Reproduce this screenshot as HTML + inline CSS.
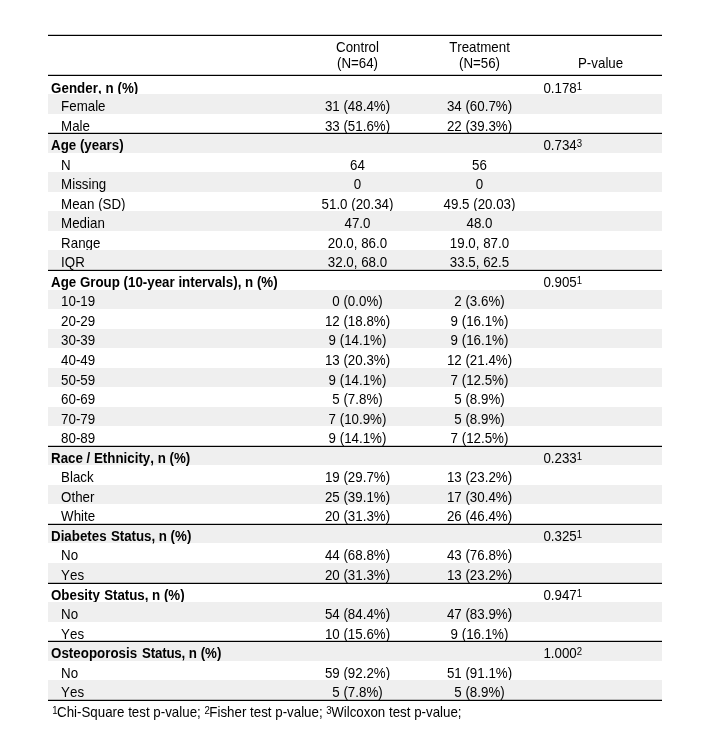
<!DOCTYPE html>
<html><head><meta charset="utf-8"><title>Table</title>
<style>
html,body{margin:0;padding:0;background:#fff;}
body{font-kerning:none;filter:grayscale(1);width:701px;height:740px;position:relative;overflow:hidden;font-family:"Liberation Sans",sans-serif;font-size:13.33px;color:#000;}
.row{position:absolute;left:48px;width:614px;height:19.543px;}
.row.g{background:#efefef;}
.t{position:absolute;white-space:nowrap;line-height:20px;top:3.01px;transform:scaleY(1.045);transform-origin:0 14.62px;}
.lab{left:13.1px;}
.row.h .lab{left:3px;font-weight:bold;}
.c1{left:249.5px;width:120px;text-align:center;}
.c2{left:371.5px;width:120px;text-align:center;}
.p{left:495.4px;}
.st{margin-left:0.7px;letter-spacing:-0.05px;}
sup{font-size:9.6px;line-height:0;vertical-align:baseline;position:relative;top:-3.4px;}
.ln{position:absolute;left:48px;width:614px;height:1px;background:#000;box-shadow:0 -1px 0 rgba(0,0,0,0.22);}
.hd{position:absolute;white-space:nowrap;text-align:center;width:120px;line-height:20px;transform:scaleY(1.045);transform-origin:0 14.62px;}
.foot{position:absolute;left:52.2px;top:703.3px;white-space:nowrap;line-height:20px;transform:scaleY(1.045);transform-origin:0 14.62px;}
.foot sup{margin-right:-0.5px;}
</style></head><body>

<div class="hd" style="left:297.5px;top:37.6px;">Control</div>
<div class="hd" style="left:297.5px;top:53.6px;">(N=64)</div>
<div class="hd" style="left:419.5px;top:37.6px;">Treatment</div>
<div class="hd" style="left:419.5px;top:53.6px;">(N=56)</div>
<div class="hd" style="left:540.6px;top:53.6px;">P-value</div>
<div class="row h" style="top:74.43px"><span style="margin-top:1.35px" class="t lab"><span style="letter-spacing:0.05px">Gender, n (%)</span></span><span style="margin-top:1.35px" class="t p">0.178<sup>1</sup></span></div>
<div class="row r g" style="top:93.97px"><span class="t lab">Female</span><span class="t c1">31 (48.4%)</span><span class="t c2">34 (60.7%)</span></div>
<div class="row r" style="top:113.52px"><span class="t lab">Male</span><span class="t c1">33 (51.6%)</span><span class="t c2">22 (39.3%)</span></div>
<div class="row h g" style="top:133.06px"><span class="t lab">Age (years)</span><span class="t p">0.734<sup>3</sup></span></div>
<div class="row r" style="top:152.60px"><span class="t lab">N</span><span class="t c1">64</span><span class="t c2">56</span></div>
<div class="row r g" style="top:172.15px"><span class="t lab">Missing</span><span class="t c1">0</span><span class="t c2">0</span></div>
<div class="row r" style="top:191.69px"><span class="t lab">Mean (SD)</span><span class="t c1">51.0 (20.34)</span><span class="t c2">49.5 (20.03)</span></div>
<div class="row r g" style="top:211.23px"><span class="t lab">Median</span><span class="t c1">47.0</span><span class="t c2">48.0</span></div>
<div class="row r" style="top:230.77px"><span class="t lab">Range</span><span class="t c1">20.0, 86.0</span><span class="t c2">19.0, 87.0</span></div>
<div class="row r g" style="top:250.32px;height:18.54px"><span class="t lab">IQR</span><span class="t c1">32.0, 68.0</span><span class="t c2">33.5, 62.5</span></div>
<div class="row h" style="top:269.86px"><span class="t lab">Age Group (10-year intervals), n (%)</span><span class="t p">0.905<sup>1</sup></span></div>
<div class="row r g" style="top:290.20px;height:18.74px"><span style="margin-top:-0.8px" class="t lab">10-19</span><span style="margin-top:-0.8px" class="t c1">0 (0.0%)</span><span style="margin-top:-0.8px" class="t c2">2 (3.6%)</span></div>
<div class="row r" style="top:308.95px"><span class="t lab">20-29</span><span class="t c1">12 (18.8%)</span><span class="t c2">9 (16.1%)</span></div>
<div class="row r g" style="top:329.29px;height:18.74px"><span style="margin-top:-0.8px" class="t lab">30-39</span><span style="margin-top:-0.8px" class="t c1">9 (14.1%)</span><span style="margin-top:-0.8px" class="t c2">9 (16.1%)</span></div>
<div class="row r" style="top:348.03px"><span class="t lab">40-49</span><span class="t c1">13 (20.3%)</span><span class="t c2">12 (21.4%)</span></div>
<div class="row r g" style="top:367.57px"><span class="t lab">50-59</span><span class="t c1">9 (14.1%)</span><span class="t c2">7 (12.5%)</span></div>
<div class="row r" style="top:387.12px"><span class="t lab">60-69</span><span class="t c1">5 (7.8%)</span><span class="t c2">5 (8.9%)</span></div>
<div class="row r g" style="top:406.66px"><span class="t lab">70-79</span><span class="t c1">7 (10.9%)</span><span class="t c2">5 (8.9%)</span></div>
<div class="row r" style="top:426.20px"><span class="t lab">80-89</span><span class="t c1">9 (14.1%)</span><span class="t c2">7 (12.5%)</span></div>
<div class="row h g" style="top:445.75px"><span class="t lab">Race / Ethnicity, n (%)</span><span class="t p">0.233<sup>1</sup></span></div>
<div class="row r" style="top:465.29px"><span class="t lab">Black</span><span class="t c1">19 (29.7%)</span><span class="t c2">13 (23.2%)</span></div>
<div class="row r g" style="top:484.83px"><span class="t lab">Other</span><span class="t c1">25 (39.1%)</span><span class="t c2">17 (30.4%)</span></div>
<div class="row r" style="top:504.38px"><span class="t lab">White</span><span class="t c1">20 (31.3%)</span><span class="t c2">26 (46.4%)</span></div>
<div class="row h g" style="top:523.92px"><span class="t lab">Diabetes <span class="st">Status,</span> n (%)</span><span class="t p">0.325<sup>1</sup></span></div>
<div class="row r" style="top:543.46px"><span class="t lab">No</span><span class="t c1">44 (68.8%)</span><span class="t c2">43 (76.8%)</span></div>
<div class="row r g" style="top:563.00px"><span class="t lab">Yes</span><span class="t c1">20 (31.3%)</span><span class="t c2">13 (23.2%)</span></div>
<div class="row h" style="top:582.55px"><span class="t lab">Obesity <span class="st">Status,</span> n (%)</span><span class="t p">0.947<sup>1</sup></span></div>
<div class="row r g" style="top:602.09px"><span class="t lab">No</span><span class="t c1">54 (84.4%)</span><span class="t c2">47 (83.9%)</span></div>
<div class="row r" style="top:621.63px"><span class="t lab">Yes</span><span class="t c1">10 (15.6%)</span><span class="t c2">9 (16.1%)</span></div>
<div class="row h g" style="top:641.18px"><span class="t lab"><span style="letter-spacing:0.025px">Osteoporosis</span> <span class="st" style="letter-spacing:-0.19px;margin-left:1.05px">Status,</span> n (%)</span><span class="t p">1.000<sup>2</sup></span></div>
<div class="row r" style="top:660.72px"><span class="t lab">No</span><span class="t c1">59 (92.2%)</span><span class="t c2">51 (91.1%)</span></div>
<div class="row r g" style="top:680.26px"><span class="t lab">Yes</span><span class="t c1">5 (7.8%)</span><span class="t c2">5 (8.9%)</span></div>
<div class="ln" style="top:35px"></div>
<div class="ln" style="top:74.73px"></div>
<div class="ln" style="top:133.36px"></div>
<div class="ln" style="top:270.16px"></div>
<div class="ln" style="top:446.05px"></div>
<div class="ln" style="top:524.22px"></div>
<div class="ln" style="top:582.85px"></div>
<div class="ln" style="top:641.48px"></div>
<div class="ln" style="top:700.11px"></div>
<div class="foot"><sup>1</sup>Chi-Square test p-value; <sup>2</sup>Fisher test p-value; <sup>3</sup>Wilcoxon test p-value;</div>
</body></html>
